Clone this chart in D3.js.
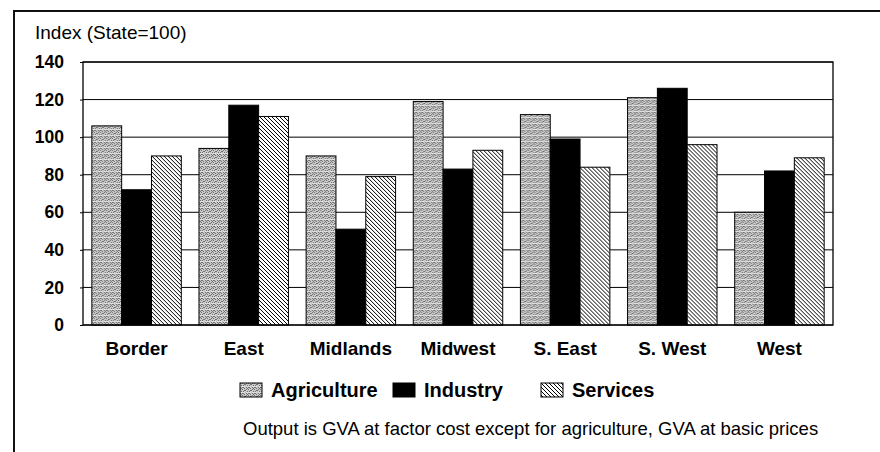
<!DOCTYPE html>
<head>
  <meta charset="utf-8">
  <script src="https://cdn.jsdelivr.net/npm/d3@7"></script>
  <style>
    body { margin: 0; background: white; }
    text { font-family: "Liberation Sans", Arial, sans-serif; fill: black; }
    .bold { font-weight: bold; }
  </style>
</head>

<body>
  <script>
const W = 880;
const H = 452;

// data
const regions = ["Border", "East", "Midlands", "Midwest", "S. East", "S. West", "West"];
const series = ["Agriculture", "Industry", "Services"];
const agriculture = [106, 94, 90, 119, 112, 121, 60];
const industry = [72, 117, 51, 83, 99, 126, 82];
const services = [90, 111, 79, 93, 84, 96, 89];
const yTicks = [0, 20, 40, 60, 80, 100, 120, 140];

const values = [agriculture, industry, services];

const svg = d3.select("body").append("svg")
  .attr("width", W)
  .attr("height", H);

// patterns
const defs = svg.append("defs");

const agr = defs.append("pattern")
  .attr("id", "pat-agr")
  .attr("patternUnits", "userSpaceOnUse")
  .attr("width", 6).attr("height", 6);
agr.append("rect").attr("width", 6).attr("height", 6).attr("fill", "#cacaca");
// little dither dots
[[0,0],[2,0],[4,1],[1,2],[3,2],[5,3],[0,4],[2,4],[4,5],[1,5],[3,4],[5,1]].forEach(p => {
  agr.append("rect").attr("x", p[0]).attr("y", p[1]).attr("width", 1).attr("height", 1).attr("fill", "#707070");
});
agr.append("rect").attr("x", 0).attr("y", 3).attr("width", 6).attr("height", 1).attr("fill", "#eeeeee").attr("opacity", 0.6);

const srv = defs.append("pattern")
  .attr("id", "pat-srv")
  .attr("patternUnits", "userSpaceOnUse")
  .attr("width", 4).attr("height", 4);
srv.append("rect").attr("width", 4).attr("height", 4).attr("fill", "white");
srv.append("path")
  .attr("d", "M-1,-1L5,5M-1,3L1,5M3,-1L5,1")
  .attr("stroke", "black")
  .attr("stroke-width", 1);

const fills = ["url(#pat-agr)", "black", "url(#pat-srv)"];

// outer frame
svg.append("rect")
  .attr("x", 14).attr("y", 11)
  .attr("width", W + 10).attr("height", H + 10)
  .attr("fill", "none")
  .attr("stroke", "#111")
  .attr("stroke-width", 2);

const pLeft = 83, pRight = 833, pTop = 62, pBottom = 325;

const y = d3.scaleLinear()
  .domain([0, 140])
  .range([pBottom, pTop]);

const x = d3.scaleBand()
  .domain(regions)
  .range([pLeft, pRight])
  .paddingInner(0.165)
  .paddingOuter(0.0825);

const xs = d3.scaleBand()
  .domain(series)
  .range([0, x.bandwidth()]);

// gridlines
svg.append("g")
  .selectAll("line")
  .data(yTicks)
  .join("line")
  .attr("x1", pLeft).attr("x2", pRight)
  .attr("y1", d => y(d)).attr("y2", d => y(d))
  .attr("stroke", "black")
  .attr("stroke-width", 1);

// y axis labels
const yaxis = d3.axisLeft(y)
  .tickValues(yTicks)
  .tickSize(3)
  .tickPadding(16);

svg.append("g")
  .attr("transform", "translate(" + pLeft + ",0)")
  .call(yaxis)
  .call(g => g.select(".domain").remove())
  .call(g => g.selectAll("line").attr("stroke", "black"))
  .call(g => g.selectAll("text")
    .attr("class", "bold")
    .style("font-family", "'Liberation Sans', Arial, sans-serif")
    .style("font-size", "17.5px")
    .attr("fill", "black"));

// bars
const groups = svg.append("g")
  .selectAll("g")
  .data(regions)
  .join("g")
  .attr("transform", d => "translate(" + x(d) + ",0)");

groups.selectAll("rect")
  .data((d, i) => series.map((s, j) => ({ s: s, v: values[j][i], j: j })))
  .join("rect")
  .attr("x", d => xs(d.s))
  .attr("y", d => y(d.v))
  .attr("width", xs.bandwidth())
  .attr("height", d => y(0) - y(d.v))
  .attr("fill", d => fills[d.j])
  .attr("stroke", "black")
  .attr("stroke-width", 1);

// plot frame
svg.append("rect")
  .attr("x", pLeft).attr("y", pTop)
  .attr("width", pRight - pLeft).attr("height", pBottom - pTop)
  .attr("fill", "none")
  .attr("stroke", "black")
  .attr("stroke-width", 1.3);

// category labels
const xaxis = d3.axisBottom(x).tickSize(0).tickPadding(17);
svg.append("g")
  .attr("transform", "translate(0," + pBottom + ")")
  .call(xaxis)
  .call(g => g.select(".domain").remove())
  .call(g => g.selectAll("text")
    .attr("class", "bold")
    .style("font-family", "'Liberation Sans', Arial, sans-serif")
    .style("font-size", "19px")
    .attr("fill", "black"));

// y title
svg.append("text")
  .attr("x", 35).attr("y", 39)
  .style("font-size", "19px")
  .text("Index (State=100)");

// legend
const legendX = [240, 393, 541];
const leg = svg.append("g")
  .selectAll("g")
  .data(series)
  .join("g")
  .attr("transform", (d, i) => "translate(" + legendX[i] + ",383)");
leg.append("rect")
  .attr("width", 22).attr("height", 14)
  .attr("fill", (d, i) => fills[i])
  .attr("stroke", "black")
  .attr("stroke-width", 1);
leg.append("text")
  .attr("class", "bold")
  .attr("x", 31).attr("y", 14)
  .style("font-size", "20px")
  .text(d => d);

// footnote
svg.append("text")
  .attr("x", 243).attr("y", 435)
  .style("font-size", "18.5px")
  .text("Output is GVA at factor cost except for agriculture, GVA at basic prices");
  </script>
</body>
